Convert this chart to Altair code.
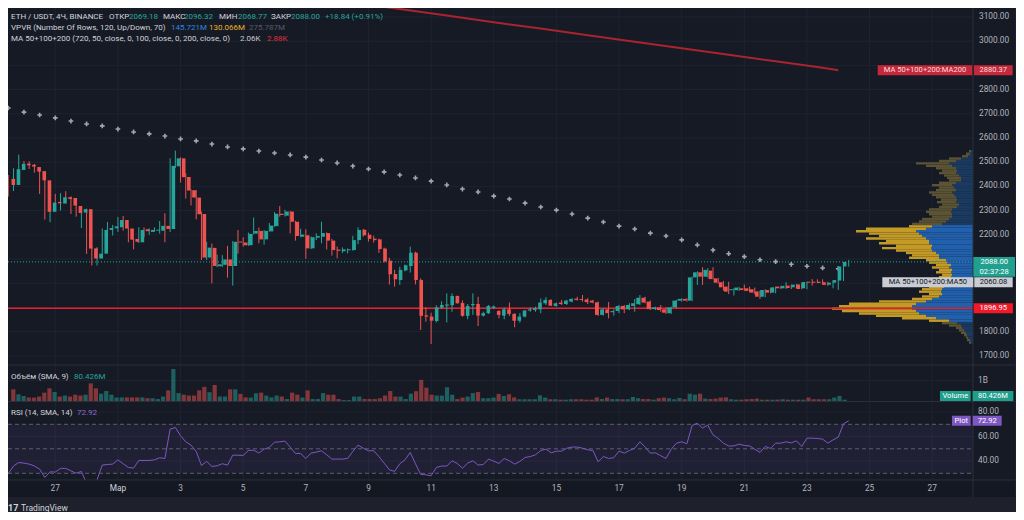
import altair as alt
import pandas as pd
import numpy as np

# ---------------- data ----------------
opens = [2431,2406,2468,2494,2489,2480,2463,2425,2295,2336,
         2329,2355,2352,2319,2292,2306,2144,2102,2122,2220,
         2227,2231,2261,2226,2183,2169,2223,2212,2217,2217,
         2237,2224,2483,2516,2439,2384,2354,2286,2106,2146,
         2070,2076,2098,2071,2172,2168,2157,2205,2216,2181,
         2214,2236,2287,2279,2296,2254,2192,2198,2144,2188,
         2192,2207,2176,2139,2132,2136,2137,2178,2221,2200,
         2184,2181,2143,2093,2038,2013,2053,2071,2126,2013,
         1867,1862,1844,1899,1907,1909,1947,1918,1865,1909,
         1914,1866,1876,1898,1885,1866,1892,1873,1845,1862,
         1887,1889,1892,1917,1931,1906,1920,1914,1924,1936,
         1935,1933,1928,1921,1869,1892,1880,1885,1906,1892,
         1906,1913,1940,1924,1893,1900,1892,1876,1900,1928,
         1935,1928,2024,2045,2027,2052,2020,2004,1986,1971,
         1971,1979,1979,1975,1966,1944,1972,1961,1986,1979,
         1990,1983,1995,1979,2006,2006,2006,2004,1994,2002,
         2011,2069.18]
highs = [2447,2475,2531,2505,2504,2493,2465,2428,2381,2369,
         2372,2380,2359,2334,2310,2308,2154,2149,2226,2253,
         2241,2274,2278,2229,2186,2231,2231,2227,2231,2257,
         2289,2516,2548,2520,2454,2388,2385,2296,2171,2164,
         2118,2116,2154,2174,2220,2190,2209,2271,2230,2220,
         2249,2294,2319,2303,2298,2258,2225,2223,2193,2206,
         2254,2210,2183,2152,2148,2144,2196,2231,2224,2209,
         2196,2184,2147,2105,2055,2068,2077,2151,2130,2020,
         1900,1878,1909,1925,1958,1958,1949,1929,1914,1958,
         1944,1882,1910,1908,1889,1899,1920,1876,1876,1889,
         1900,1903,1937,1942,1933,1920,1931,1931,1938,1944,
         1951,1938,1931,1924,1896,1922,1892,1910,1910,1917,
         1935,1951,1944,1928,1903,1910,1900,1903,1931,1938,
         1938,2027,2049,2066,2062,2066,2022,2009,2006,1979,
         1985,1994,1986,1982,1969,1975,1979,1986,1989,2004,
         1994,1997,1999,2006,2017,2016,2016,2006,2006,2016,
         2070,2096.32]
lows = [2358,2381,2457,2471,2472,2457,2369,2263,2252,2312,
        2300,2341,2286,2275,2228,2121,2073,2073,2103,2191,
        2197,2212,2217,2169,2140,2166,2190,2200,2213,2205,
        2169,2211,2476,2416,2350,2321,2264,2096,2096,1999,
        2066,2067,2023,1990,2122,2151,2154,2202,2165,2159,
        2213,2233,2275,2275,2206,2176,2190,2101,2141,2178,
        2165,2139,2114,2103,2125,2123,2134,2161,2192,2172,
        2168,2125,2085,1994,1986,1993,2049,2044,1995,1807,
        1841,1749,1838,1894,1838,1882,1916,1862,1851,1869,
        1823,1862,1873,1893,1855,1851,1865,1818,1837,1859,
        1882,1882,1876,1910,1906,1903,1910,1910,1921,1928,
        1924,1914,1917,1865,1866,1855,1866,1876,1876,1889,
        1882,1910,1917,1889,1889,1882,1873,1873,1896,1924,
        1924,1926,1993,1993,2024,2016,1999,1969,1955,1949,
        1968,1969,1962,1954,1935,1942,1958,1958,1976,1976,
        1976,1980,1975,1975,1990,2000,1997,1989,1979,1972,
        2009,2068.77]
closes = [2406,2471,2493,2487,2482,2461,2425,2295,2333,2330,
          2355,2348,2321,2290,2306,2143,2102,2122,2220,2228,
          2235,2261,2226,2180,2171,2220,2215,2220,2221,2237,
          2224,2485,2516,2438,2383,2354,2285,2106,2147,2071,
          2078,2098,2071,2171,2168,2157,2204,2216,2181,2216,
          2238,2287,2282,2296,2254,2195,2201,2144,2190,2195,
          2207,2176,2137,2134,2140,2140,2178,2220,2198,2183,
          2178,2141,2090,2037,2016,2055,2074,2126,2013,1865,
          1862,1845,1900,1910,1912,1947,1917,1865,1906,1914,
          1866,1876,1906,1904,1869,1892,1873,1845,1862,1887,
          1892,1896,1920,1931,1907,1917,1914,1928,1935,1931,
          1931,1922,1920,1869,1892,1876,1885,1906,1892,1910,
          1917,1940,1920,1893,1900,1889,1878,1900,1928,1935,
          1928,2024,2045,2027,2055,2017,2002,1983,1965,1975,
          1982,1972,1968,1961,1944,1972,1961,1983,1979,1989,
          1980,1994,1976,2005,2002,2002,2001,1993,2002,2013,
          2069,2088.00]
volumes_b = [0.58,0.34,0.26,0.18,0.18,0.23,0.42,0.63,0.45,0.23,
             0.28,0.23,0.32,0.28,0.32,0.87,0.63,0.37,0.50,0.32,
             0.18,0.19,0.19,0.19,0.19,0.19,0.15,0.15,0.11,0.23,
             0.53,1.57,0.40,0.32,0.28,0.28,0.53,0.70,0.44,0.79,
             0.23,0.23,0.58,0.58,0.36,0.19,0.18,0.39,0.42,0.28,
             0.19,0.28,0.23,0.11,0.42,0.32,0.18,0.53,0.11,0.11,
             0.40,0.32,0.32,0.11,0.06,0.06,0.23,0.23,0.11,0.11,
             0.11,0.15,0.28,0.50,0.23,0.23,0.11,0.37,0.49,1.04,
             0.66,0.32,0.28,0.28,0.68,0.32,0.11,0.18,0.23,0.40,
             0.45,0.15,0.15,0.18,0.36,0.26,0.34,0.19,0.10,0.10,
             0.10,0.10,0.29,0.18,0.10,0.10,0.08,0.08,0.10,0.10,
             0.10,0.08,0.08,0.19,0.11,0.18,0.11,0.11,0.10,0.10,
             0.21,0.15,0.11,0.11,0.08,0.15,0.18,0.15,0.10,0.16,
             0.10,0.37,0.32,0.37,0.13,0.11,0.13,0.18,0.19,0.10,
             0.08,0.08,0.10,0.11,0.13,0.08,0.08,0.08,0.08,0.10,
             0.08,0.08,0.08,0.08,0.18,0.10,0.10,0.10,0.10,0.18,
             0.26,0.08]
rsi_vals = [29.6,36.0,38.8,38.3,37.5,36.0,33.4,26.6,31.2,31.0,
            34.0,34.0,32.0,30.1,31.5,22.0,17.9,24.7,36.7,37.2,
            37.5,41.0,37.8,34.8,34.2,40.5,40.5,40.5,41.0,42.7,
            42.1,66.0,67.4,60.6,55.7,53.0,47.8,36.4,39.7,35.6,
            36.1,37.8,36.7,44.8,44.8,44.6,48.6,48.9,46.5,49.7,
            51.1,55.4,55.7,56.3,51.4,46.2,46.2,42.1,46.5,47.3,
            48.4,45.1,41.6,41.6,41.6,42.1,47.8,53.0,50.5,48.4,
            48.4,43.7,38.3,32.9,31.5,37.8,41.0,47.0,37.8,29.1,
            28.8,28.0,34.8,35.9,35.9,40.2,38.0,34.2,38.3,40.2,
            36.7,37.2,41.6,39.9,38.0,42.1,40.2,37.5,39.7,42.9,
            43.7,45.1,48.6,49.7,46.7,48.1,48.1,50.5,51.4,51.4,
            50.5,49.2,48.6,39.4,43.7,42.1,42.7,48.1,46.5,48.6,
            50.5,55.7,51.4,46.5,46.7,44.3,42.1,49.7,54.6,55.7,
            54.1,69.0,70.9,66.9,69.3,61.4,58.4,54.6,52.2,52.4,
            53.8,52.7,52.4,49.7,47.0,51.9,50.3,54.6,54.6,55.7,
            54.9,56.5,51.9,58.7,58.7,58.4,57.9,54.6,57.3,59.5,
            70.4,72.92]
# 12h MA50 (drawn as crosses, one per 12h = every 3rd 4h bar)
ma50_idx = list(range(0, 162, 3))
ma50_vals = [2724,2707,2695,2683,2670,2658,2650,2637,2625,2617,
             2608,2596,2588,2575,2563,2555,2546,2538,2530,2521,
             2509,2497,2484,2472,2460,2447,2435,2422,2406,2389,
             2377,2360,2348,2331,2315,2302,2286,2269,2253,2236,
             2224,2207,2195,2179,2158,2137,2122,2110,2097,2089,
             2078,2070,2063,2060]
ma200_idx = [69,75,84,93,102,111,120,129,138,147,156,159]
ma200_vals = [3150,3133,3106,3078,3052,3025,2998,2971,2944,2917,2890,2880.37]
# volume profile rows (10 USDT each), bottom to top
vp_lo = list(range(1750, 2550, 10))
vp_up = [2,3,5,6,7,9,11,12,16,24, 37,47,54,57,61,61,57,47,41,34,
         31,32,31,29,27,26,24,22,21,22, 21,24,22,26,27,34,34,37,41,42,
         41,44,44,47,51,54,57,47,41,31, 27,24,21,21,22,21,16,14,17,16,
         17,19,21,17,19,21,17,12,12,14, 17,16,17,21,24,17,12,5,3,2]
vp_down = [2,3,2,3,5,5,6,12,15,20, 34,50,60,74,80,73,67,47,20,17,
           13,22,20,15,20,18,17,12,10,15, 13,17,15,18,20,30,27,30,36,49,
           36,50,43,60,43,50,60,60,23,30, 27,27,20,23,25,23,18,17,19,16,
           20,22,23,20,15,20,17,12,14,15, 17,15,20,26,33,17,12,6,4,2]
VA_LO, VA_HI = 1840, 2240
POC = 1896.95
MA50_LAST = 2060.08
MA200_LAST = 2880.37
RSI_LAST = 72.92
tick_idx = [9,21,33,45,57,69,81,93,105,117,129,141,153,165,177]
tick_lbl = ["27","Мар","3","5","7","9","11","13","15","17","19","21","23","25","27"]
price_ticks = [1700,1800,1900,2000,2100,2200,2300,2400,2500,2600,2700,2800,2900,3000,3100]
hidden_price_ticks = [1900, 2000, 2100, 2900]   # covered by the price-axis labels
rsi_ticks = [40,60,80]

# ---------------- styling ----------------
BG = "#161a25"; GRID = "#1f2330"; SEP = "#2a2e39"; FRAME = "#1e212b"
UP = "#26a69a"; DN = "#ef5350"; AX = "#b2b5be"; LBL = "#d1d4dc"
FONT = "Roboto"

XS = alt.Scale(domain=[0, 177], range=[0.3, 924.24], nice=False, zero=False)
PS = alt.Scale(domain=[1700, 3100], range=[347.8, 9], nice=False, zero=False)
VS = alt.Scale(domain=[0, 1], range=[393.3, 372.7], nice=False, zero=False)
RS = alt.Scale(domain=[30, 70], range=[465.3, 416.3], nice=False, zero=False)
VPX = alt.Scale(domain=[0, 140], range=[965, 825], nice=False, zero=False)

n = len(opens)
cd = pd.DataFrame({"i": range(n), "o": opens, "h": highs, "l": lows, "c": closes,
                   "v": volumes_b, "r": rsi_vals})
cd["col"] = np.where(cd["c"] >= cd["o"], UP, DN)
cd["b0"] = cd[["o", "c"]].min(axis=1)
cd["b1"] = np.maximum(cd[["o", "c"]].max(axis=1), cd["b0"] + 4)

one = pd.DataFrame({"k": [0]})
L = []

def X(f="i:Q"):
    return alt.X(f, scale=XS, axis=None)

def hrule(y, color, x2=965, dash=None, w=1):
    kw = dict(color=color, strokeWidth=w)
    if dash:
        kw["strokeDash"] = dash
    return alt.Chart(one).mark_rule(**kw).encode(x=alt.value(0), x2=alt.value(x2), y=alt.value(y))

def txt(s, x, y, color=LBL, size=8, align="left", weight="normal"):
    return alt.Chart(pd.DataFrame({"t": [s]})).mark_text(
        align=align, baseline="middle", font=FONT, fontSize=size, color=color, fontWeight=weight
    ).encode(x=alt.value(x), y=alt.value(y), text="t:N")

def box(df, yenc, cx, w, h, color, top=None, yoff=0):
    t = -h / 2 if top is None else top
    k = w / 2.0
    a, b = t / k, (t + h) / k
    path = f"M-1,{a:.4f}L1,{a:.4f}L1,{b:.4f}L-1,{b:.4f}Z"
    return alt.Chart(df).mark_point(shape=path, size=w * w, filled=True, opacity=1,
                                    color=color, strokeWidth=0, yOffset=yoff
                                    ).encode(x=alt.value(cx), y=yenc)

def boxtext(df, yenc, cx, s, color="#ffffff", dy=0, size=7.6):
    d = df.copy()
    d["t"] = s
    return alt.Chart(d).mark_text(align="center", baseline="middle", font=FONT, fontSize=size,
                                  color=color, dy=dy).encode(x=alt.value(cx), y=yenc, text="t:N")

ticks = pd.DataFrame({"i": tick_idx, "lbl": tick_lbl})
pt = pd.DataFrame({"p": price_ticks})
pt_vis = pt[~pt["p"].isin(hidden_price_ticks)]
rt = pd.DataFrame({"r": rsi_ticks})

# grids
L.append(alt.Chart(ticks).mark_rule(color=GRID).encode(x=X(), y=alt.value(0), y2=alt.value(472)))
L.append(alt.Chart(pt).mark_rule(color=GRID).encode(y=alt.Y("p:Q", scale=PS, axis=None), x=alt.value(0), x2=alt.value(965)))
L.append(alt.Chart(rt).mark_rule(color=GRID).encode(y=alt.Y("r:Q", scale=RS, axis=None), x=alt.value(0), x2=alt.value(965)))
L.append(alt.Chart(pd.DataFrame({"v": [1.0]})).mark_rule(color=GRID).encode(y=alt.Y("v:Q", scale=VS, axis=None), x=alt.value(0), x2=alt.value(965)))

# RSI band and levels
band = pd.DataFrame({"lo": [30], "hi": [70]})
L.append(alt.Chart(band).mark_rect(color="#7e57c2", opacity=0.1).encode(
    y=alt.Y("lo:Q", scale=RS, axis=None), y2="hi:Q", x=alt.value(0), x2=alt.value(965)))
L.append(alt.Chart(pd.DataFrame({"r": [30, 50, 70]})).mark_rule(color="#5d606b", strokeDash=[4, 3]).encode(
    y=alt.Y("r:Q", scale=RS, axis=None), x=alt.value(0), x2=alt.value(965)))

# volume profile
vp = pd.DataFrame({"lo": vp_lo, "up": vp_up, "dn": vp_down})
vp["hi"] = vp["lo"] + 10
vp["z"] = 0
vp["tot"] = vp["up"] + vp["dn"]
va = (vp["lo"] >= VA_LO) & (vp["lo"] < VA_HI)
vp["cu"] = np.where(va, "#2160ad", "#1b3a5f")
vp["cdn"] = np.where(va, "#c49a26", "#5b5333")
L.append(alt.Chart(vp).mark_rect().encode(
    x=alt.X("up:Q", scale=VPX, axis=None), x2="z:Q",
    y=alt.Y("lo:Q", scale=PS, axis=None), y2="hi:Q", color=alt.Color("cu:N", scale=None)))
L.append(alt.Chart(vp).mark_rect().encode(
    x=alt.X("tot:Q", scale=VPX, axis=None), x2="up:Q",
    y=alt.Y("lo:Q", scale=PS, axis=None), y2="hi:Q", color=alt.Color("cdn:N", scale=None)))

# POC line and last-price line
L.append(alt.Chart(pd.DataFrame({"p": [POC]})).mark_rule(color="#e8202e", strokeWidth=1.5).encode(
    y=alt.Y("p:Q", scale=PS, axis=None), x=alt.value(0), x2=alt.value(965)))
L.append(alt.Chart(pd.DataFrame({"p": [closes[-1]]})).mark_rule(color=UP, strokeDash=[1, 2]).encode(
    y=alt.Y("p:Q", scale=PS, axis=None), x=alt.value(0), x2=alt.value(965)))

# moving averages
L.append(alt.Chart(pd.DataFrame({"i": ma200_idx, "v": ma200_vals})).mark_line(color="#a8242f", strokeWidth=2).encode(
    x=X(), y=alt.Y("v:Q", scale=PS, axis=None)))
L.append(alt.Chart(pd.DataFrame({"i": ma50_idx, "v": ma50_vals})).mark_point(
    shape="M-1,0L1,0M0,-1L0,1", filled=False, size=22, strokeWidth=1.6, color="#a3a6af", opacity=1).encode(
    x=X(), y=alt.Y("v:Q", scale=PS, axis=None)))

# candles
L.append(alt.Chart(cd).mark_rule(strokeWidth=1).encode(
    x=X(), y=alt.Y("l:Q", scale=PS, axis=None), y2="h:Q", color=alt.Color("col:N", scale=None)))
L.append(alt.Chart(cd).mark_bar(size=3.6).encode(
    x=X(), y=alt.Y("b0:Q", scale=PS, axis=None), y2="b1:Q", color=alt.Color("col:N", scale=None)))

# volume
L.append(alt.Chart(cd).mark_bar(size=4.2, opacity=0.5).encode(
    x=X(), y=alt.Y("v:Q", scale=VS, axis=None), color=alt.Color("col:N", scale=None)))

# RSI line
L.append(alt.Chart(cd).mark_line(color="#7e57c2", strokeWidth=1).encode(
    x=X(), y=alt.Y("r:Q", scale=RS, axis=None)))

# cover the time-axis strip, separators
L.append(alt.Chart(one).mark_rect(color="#141823").encode(x=alt.value(0), x2=alt.value(1008), y=alt.value(472), y2=alt.value(489)))
L.append(hrule(357, SEP, x2=1008))
L.append(hrule(393.5, SEP, x2=1008))
L.append(hrule(472, SEP, x2=1008))
L.append(alt.Chart(one).mark_rule(color=SEP).encode(x=alt.value(965), y=alt.value(0), y2=alt.value(489)))

# time labels
L.append(alt.Chart(ticks).transform_filter(alt.datum.lbl != "Мар").mark_text(
    baseline="middle", font=FONT, fontSize=8.3, color=AX).encode(x=X(), y=alt.value(481), text="lbl:N"))
L.append(alt.Chart(ticks).transform_filter(alt.datum.lbl == "Мар").mark_text(
    baseline="middle", font=FONT, fontSize=8.3, color=LBL).encode(x=X(), y=alt.value(481), text="lbl:N"))

# bottom frame with logo
L.append(alt.Chart(one).mark_rect(color=FRAME).encode(x=alt.value(0), x2=alt.value(1008), y=alt.value(489), y2=alt.value(504)))
L.append(alt.Chart(one).mark_rect(color=FRAME).encode(x=alt.value(1007), x2=alt.value(1008), y=alt.value(0), y2=alt.value(504)))
L.append(txt("17", 0, 500, color=LBL, size=9, weight="bold"))
L.append(txt("TradingView", 13, 500, color=LBL, size=8.5))

# right price axis labels
L.append(alt.Chart(pt_vis).mark_text(align="left", baseline="middle", font=FONT, fontSize=8.3, color=AX).encode(
    y=alt.Y("p:Q", scale=PS, axis=None), x=alt.value(971), text=alt.Text("p:Q", format=".2f")))
L.append(alt.Chart(rt).mark_text(align="left", baseline="middle", font=FONT, fontSize=8.3, color=AX).encode(
    y=alt.Y("r:Q", scale=RS, axis=None), x=alt.value(970), text=alt.Text("r:Q", format=".2f")))
L.append(alt.Chart(pd.DataFrame({"v": [1.0]})).mark_text(align="left", baseline="middle", font=FONT, fontSize=8.3, color=AX).encode(
    y=alt.Y("v:Q", scale=VS, axis=None), x=alt.value(970), text=alt.value("1B")))

# label boxes on the price axis
d200 = pd.DataFrame({"p": [MA200_LAST]})
y200 = alt.Y("p:Q", scale=PS, axis=None)
L.append(box(d200, y200, 917, 94.6, 10, "#c4283a"))
L.append(boxtext(d200, y200, 917, "MA 50+100+200:MA200", color="#f5dede"))
L.append(box(d200, y200, 985.3, 38.7, 10, "#c4283a"))
L.append(boxtext(d200, y200, 985.3, f"{MA200_LAST:.2f}", color="#f5dede"))

dlast = pd.DataFrame({"p": [closes[-1]]})
ylast = alt.Y("p:Q", scale=PS, axis=None)
L.append(box(dlast, ylast, 986.2, 41.7, 19.6, "#22a08f", top=-4.8))
L.append(boxtext(dlast, ylast, 986.2, f"{closes[-1]:.2f}"))
L.append(boxtext(dlast, ylast, 986.2, "02:37:28", dy=9.8))

d50 = pd.DataFrame({"p": [MA50_LAST]})
y50 = alt.Y("p:Q", scale=PS, axis=None)
L.append(box(d50, y50, 919.8, 91, 10, "#c9ccd3", yoff=13.6))
L.append(boxtext(d50, y50, 919.8, "MA 50+100+200:MA50", color="#131722", dy=13.6))
L.append(box(d50, y50, 985.5, 38.4, 10, "#c9ccd3", yoff=13.6))
L.append(boxtext(d50, y50, 985.5, f"{MA50_LAST:.2f}", color="#131722", dy=13.6))

dpoc = pd.DataFrame({"p": [POC]})
ypoc = alt.Y("p:Q", scale=PS, axis=None)
L.append(box(dpoc, ypoc, 985.3, 39.3, 10, "#f0192a"))
L.append(boxtext(dpoc, ypoc, 985.3, f"{POC:.2f}"))

# volume label box (kept inside its pane)
L.append(box(one, alt.value(388), 947.3, 30.7, 10, "#1f9e8b"))
L.append(boxtext(one, alt.value(388), 947.3, "Volume"))
L.append(box(one, alt.value(388), 985, 40.7, 10, "#1f9e8b"))
L.append(boxtext(one, alt.value(388), 985, "80.426M"))

# RSI label box
drsi = pd.DataFrame({"r": [RSI_LAST]})
yrsi = alt.Y("r:Q", scale=RS, axis=None)
L.append(box(drsi, yrsi, 953.3, 18.7, 10, "#7e57c2"))
L.append(boxtext(drsi, yrsi, 953.3, "Plot"))
L.append(box(drsi, yrsi, 979.2, 29, 10, "#7e57c2"))
L.append(boxtext(drsi, yrsi, 979.2, f"{RSI_LAST:.2f}"))

# legends / headers
TEAL = "#26a69a"
L += [
    txt("ETH / USDT, 4Ч, BINANCE", 3, 8.5),
    txt("ОТКР", 101, 8.5), txt("2069.18", 121, 8.5, TEAL),
    txt("МАКС", 155, 8.5), txt("2096.32", 176, 8.5, TEAL),
    txt("МИН", 211, 8.5), txt("2068.77", 230, 8.5, TEAL),
    txt("ЗАКР", 263, 8.5), txt("2088.00", 283, 8.5, TEAL),
    txt("+18.84 (+0.91%)", 317, 8.5, TEAL),
    txt("VPVR (Number Of Rows, 120, Up/Down, 70)", 3, 19.7),
    txt("145.721M", 163, 19.7, "#2d86e0"),
    txt("130.066M", 201, 19.7, "#e9b22c"),
    txt("275.787M", 241, 19.7, "#565a66"),
    txt("MA 50+100+200 (720, 50, close, 0, 100, close, 0, 200, close, 0)", 3, 31),
    txt("2.06K", 232, 31, "#c8cad0"),
    txt("2.88K", 259, 31, "#e0303f"),
    txt("Объём (SMA, 9)", 3, 369),
    txt("80.426M", 66, 369, TEAL),
    txt("RSI (14, SMA, 14)", 3, 405),
    txt("72.92", 69, 405, "#8e6ccf"),
]

chart = alt.layer(*L).resolve_scale(x="independent", y="independent").properties(
    width=1008, height=504, padding=0,
    autosize=alt.AutoSizeParams(type="none"), background=BG
).configure_view(stroke=None)

chart.save("out.html", embed_options={"renderer": "svg", "actions": False})
